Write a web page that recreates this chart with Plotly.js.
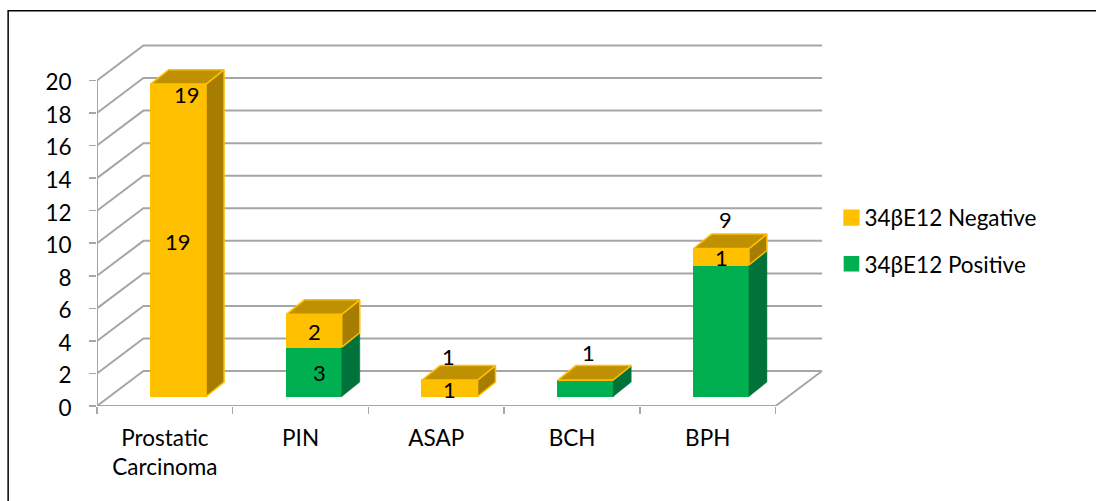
<!DOCTYPE html>
<html>
<head>
<meta charset="utf-8">
<script src="https://cdn.plot.ly/plotly-3.0.1.min.js"></script>
<style>html,body{margin:0;padding:0;background:#fff}#chart{width:1096px;height:501px}</style>
</head>
<body>
<div id="chart"></div>
<script>
// Lesion groups and 34betaE12 staining counts
const categories = ['Prostatic<br>Carcinoma', 'PIN', 'ASAP', 'BCH', 'BPH'];
const positive = [0, 3, 0, 1, 8];
const negative = [19, 2, 1, 0, 1];
const yTicks = [0, 2, 4, 6, 8, 10, 12, 14, 16, 18, 20];

// Labels printed on the negative and positive segments, and the group totals above the bars
const showNegativeLabel = [true, true, true, false, true];
const showPositiveLabel = [false, true, false, false, false];
const showTotalLabel = [true, false, true, true, true];

// Oblique projection of the chart box, in axis units
const WALL_DX = 0.342, WALL_DY = 2.147;
const BAR_WIDTH = 0.408, BAR_DX = 0.1325, BAR_DY = 0.88;

const YELLOW = '#FFC000', YELLOW_SIDE = '#A67D00', YELLOW_TOP = '#BF9000';
const GREEN = '#00B050', GREEN_SIDE = '#00723A';
const GRID = '#A6A6A6';
const FONT = 'Lato, Carlito, sans-serif';
const FS = 22.5;

// Walls and floor of the box
const gridX = [], gridY = [];
yTicks.forEach(v => {
  gridX.push(0, WALL_DX, 5 + WALL_DX, null);
  gridY.push(v, v + WALL_DY, v + WALL_DY, null);
});
gridX.push(0, 0, null, 0, 5, 5 + WALL_DX);
gridY.push(0, 20, null, 0, 0, WALL_DY);

const traces = [{
  type: 'scatter', mode: 'lines', x: gridX, y: gridY, xaxis: 'x', yaxis: 'y',
  line: {color: GRID, width: 2}, hoverinfo: 'skip', showlegend: false, cliponaxis: false
}];

// Front faces: a stacked bar per group
const centers = categories.map((_, i) => i);
traces.push({
  type: 'bar', name: '34βE12 Positive', x: centers, y: positive, width: BAR_WIDTH,
  xaxis: 'x2', yaxis: 'y2', marker: {color: GREEN, line: {color: GREEN, width: 1}},
  legendgroup: 'pos', legendrank: 2, hoverinfo: 'skip'
});
traces.push({
  type: 'bar', name: '34βE12 Negative', x: centers, y: negative, width: BAR_WIDTH,
  xaxis: 'x2', yaxis: 'y2', marker: {color: YELLOW, line: {color: YELLOW, width: 1.5}},
  legendgroup: 'neg', legendrank: 1, hoverinfo: 'skip'
});

// Receding faces, projected from the same stacked values
function face(points, fill, edge, edgeWidth) {
  traces.push({
    type: 'scatter', mode: 'lines', fill: 'toself', fillcolor: fill,
    x: points.map(p => p[0]), y: points.map(p => p[1]), xaxis: 'x2', yaxis: 'y2',
    line: {color: edge, width: edgeWidth}, hoverinfo: 'skip', showlegend: false
  });
}
function sideFace(i, lo, hi, fill, edge, w) {
  const r = i + BAR_WIDTH / 2;
  face([[r, lo], [r + BAR_DX, lo + BAR_DY], [r + BAR_DX, hi + BAR_DY], [r, hi], [r, lo]], fill, edge, w);
}
categories.forEach((_, i) => {
  const mid = positive[i], total = positive[i] + negative[i];
  if (mid > 0) sideFace(i, 0, mid, GREEN_SIDE, GREEN_SIDE, 0.5);
  if (negative[i] > 0) sideFace(i, mid, total, YELLOW_SIDE, YELLOW, 1.5);
  const l = i - BAR_WIDTH / 2, r = i + BAR_WIDTH / 2;
  face([[l, total], [l + BAR_DX, total + BAR_DY], [r + BAR_DX, total + BAR_DY], [r, total], [l, total]],
       YELLOW_TOP, YELLOW, 1.5);
});

// Value labels
const annotations = [];
function label(i, y, text, dx, dy) {
  annotations.push({
    xref: 'x2', yref: 'y2', x: i, y: y, text: String(text), showarrow: false,
    xshift: dx, yshift: dy, font: {family: FONT, size: 22, color: '#000'}
  });
}
const totalShift = [[9, -10], null, [-1, 24], [3, 28], [4, 29]];
categories.forEach((_, i) => {
  const mid = positive[i], total = mid + negative[i];
  if (showPositiveLabel[i]) label(i, mid / 2, positive[i], 5, -1);
  if (showNegativeLabel[i]) label(i, mid + negative[i] / 2, negative[i], 0, -1);
  if (showTotalLabel[i]) label(i, total, total, totalShift[i][0], totalShift[i][1]);
});

const layout = {
  width: 1096, height: 501, autosize: false,
  margin: {l: 96.5, r: 272.5, t: 44, b: 94.5, autoexpand: false},
  paper_bgcolor: '#fff', plot_bgcolor: 'rgba(0,0,0,0)',
  font: {family: FONT, size: FS, color: '#000'},
  barmode: 'stack',
  xaxis: {
    range: [0, 5.3495], tickmode: 'array', tickvals: [0.5, 1.5, 2.5, 3.5, 4.5], ticktext: categories,
    ticks: '', showgrid: false, zeroline: false, showline: false, ticklabelstandoff: 16,
    tickfont: {family: FONT, size: FS, color: '#000'}, tickangle: 0,
    minor: {tickmode: 'array', tickvals: [0, 1, 2, 3, 4, 5], ticks: 'outside', ticklen: 7, tickwidth: 1.5, tickcolor: GRID, showgrid: false}
  },
  yaxis: {
    range: [0, 22.24], tickmode: 'array', tickvals: yTicks, ticks: 'outside', ticklen: 7, tickwidth: 1.5,
    tickcolor: GRID, showgrid: false, zeroline: false, showline: false, ticklabelstandoff: 13, ticklabelshift: 2,
    tickfont: {family: FONT, size: FS, color: '#000'}
  },
  xaxis2: {overlaying: 'x', visible: false, range: [-0.5996, 4.7496]},
  yaxis2: {overlaying: 'y', visible: false, range: [-0.577, 21.44]},
  legend: {
    x: 1.002, y: 0.579, xanchor: 'left', yanchor: 'top', traceorder: 'grouped',
    tracegroupgap: 14, itemclick: false, itemdoubleclick: false, itemwidth: 30,
    font: {family: FONT, size: 22.5, color: '#000'}, bgcolor: 'rgba(0,0,0,0)'
  },
  shapes: [{
    type: 'rect', xref: 'paper', yref: 'paper', layer: 'below',
    x0: -0.1224, x1: 1.6, y0: -0.3, y1: 1.092, line: {color: '#000', width: 1.5}
  }],
  annotations: annotations
};

Plotly.newPlot('chart', traces, layout, {displayModeBar: false, staticPlot: true}).then(gd => {
  // Larger legend swatches, set closer to their labels
  gd.querySelectorAll('.legend .legendpoints path').forEach(p => {
    p.setAttribute('transform', 'translate(27,0) scale(1.2)');
  });
});
</script>
</body>
</html>
